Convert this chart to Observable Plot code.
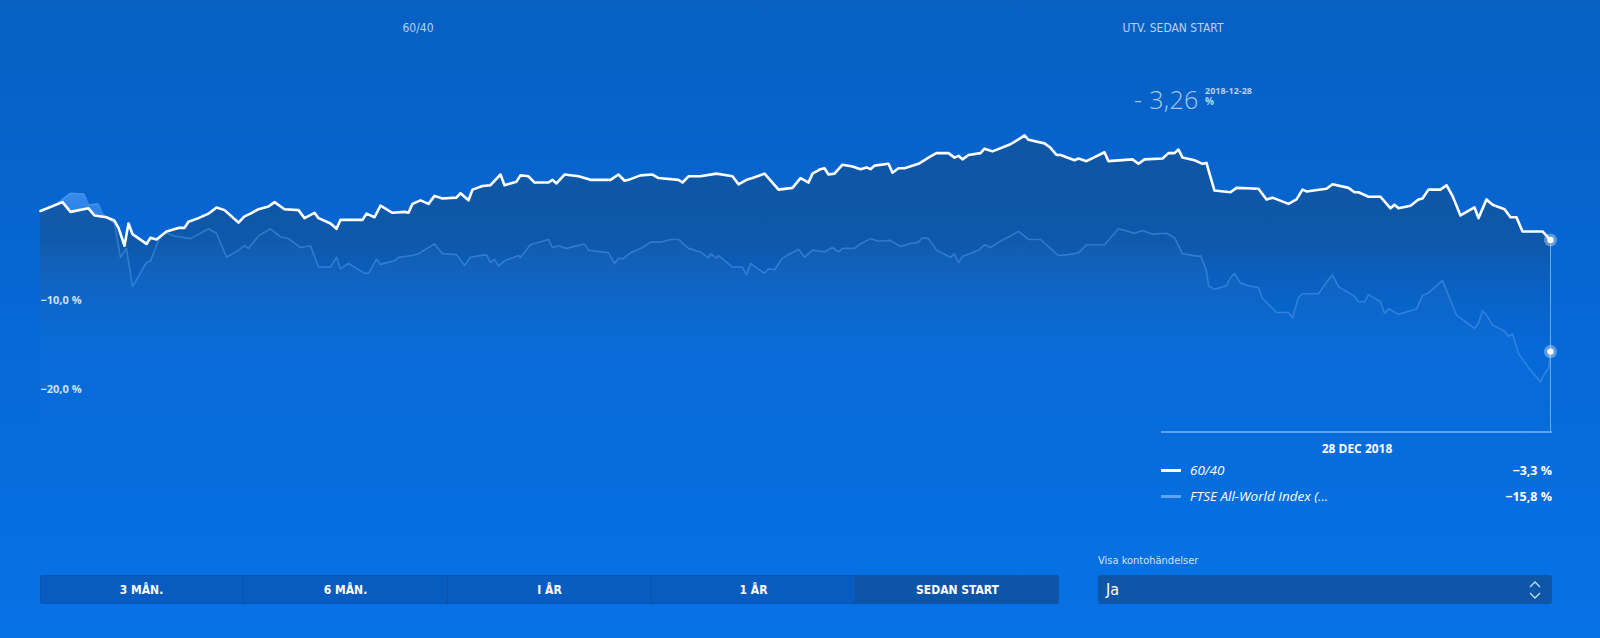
<!DOCTYPE html>
<html>
<head>
<meta charset="utf-8">
<script src="https://cdn.jsdelivr.net/npm/d3@7"></script>
<script src="https://cdn.jsdelivr.net/npm/@observablehq/plot@0.6"></script>
<style>
  html, body { margin: 0; padding: 0; }
  body { width: 1600px; height: 638px; overflow: hidden; }
  #root { position: relative; width: 1600px; height: 638px; overflow: hidden;
    background: linear-gradient(180deg, #0760c2 0%, #0666d2 40%, #0772e6 100%);
    font-family: "Open Sans", "Noto Sans", sans-serif; }
  .abs { position: absolute; white-space: nowrap; }
  .narrow { font-family: "Liberation Sans Narrow", "DejaVu Sans Condensed", "Roboto", sans-serif; }
  .hdr { font-size: 12px; color: #b8d2f2; transform: translateX(-50%); top: 21px; }
  #chart { position: absolute; left: 0; top: 0; }
  .btns { left: 40px; top: 575px; width: 1019px; height: 29px; display: flex; border-radius: 3px; overflow: hidden; background: #085cbf; box-shadow: 0 0 0 1px #0854b0 inset; }
  .btn { flex: 1; display: flex; align-items: center; justify-content: center; color: #fff; font-weight: bold; font-size: 12px; border-right: 1px solid #0852ad; }
  .btn:last-child { border-right: none; }
  .btn.active { background: #0d55a6; }
  .row { color: #fff; }
</style>
</head>
<body>
<div id="root">
  <div class="abs hdr narrow" style="left:418px">60/40</div>
  <div class="abs hdr narrow" style="left:1173px">UTV. SEDAN START</div>
  <div class="abs" style="left:1134px;top:82px;font-size:25px;font-weight:300;color:#a9c9f1;letter-spacing:0.3px">-&nbsp;3,26</div>
  <div class="abs" style="left:1205px;top:84px;font-size:9px;font-weight:bold;color:#b5d1f3">2018-12-28</div>
  <div class="abs" style="left:1205px;top:94px;font-size:10px;font-weight:bold;color:#b5d1f3">%</div>
  <div id="chart"></div>
  <div class="abs" style="left:1161px;top:431px;width:391px;height:2px;background:#5ea3f2"></div>
  <div class="abs" id="tipDate" style="left:1357px;top:440px;transform:translateX(-50%);font-size:12px;font-weight:bold;color:#fff"></div>
  <div id="legend"></div>
  <div class="abs narrow" id="kontoLabel" style="left:1098px;top:554px;font-size:11px;color:#d2e4f8"></div>
  <div class="abs btns narrow" id="btns"></div>
  <div class="abs" style="left:1098px;top:575px;width:454px;height:29px;background:#0e56a8;border-radius:3px">
    <div class="abs narrow" id="kontoValue" style="left:8px;top:5px;font-size:16px;color:#fff"></div>
    <svg class="abs" style="left:431px;top:6px" width="12" height="18" viewBox="0 0 12 18">
      <polyline points="1,6 6,1 11,6" fill="none" stroke="#c9ddf5" stroke-width="1.3"/>
      <polyline points="1,12 6,17 11,12" fill="none" stroke="#c9ddf5" stroke-width="1.3"/>
    </svg>
  </div>
</div>
<script>
// ---------------- DATA ----------------
const startDate = "2016-12-03";
const endDateLabel = "28 DEC 2018";
const seriesNames = ["60/40", "FTSE All-World Index (..."];
const endValueLabels = ["\u22123,3 %", "\u221215,8 %"];
const yTicks = [-10, -20];
const periodLabels = ["3 MÅN.", "6 MÅN.", "I ÅR", "1 ÅR", "SEDAN START"];
const activePeriod = "SEDAN START";
const kontoLabel = "Visa kontohändelser";
const kontoValue = "Ja";

// days since start, 60/40 portfolio development (%)
const sixtyDays = [0,11,15,24,27,33,37,39,42,44,46,53,55,58,63,69,72,74,79,84,88,92,99,102,105,109,114,117,122,129,132,137,139,145,148,150,161,163,167,170,176,182,184,186,190,194,197,201,208,210,214,216,221,225,230,232,238,240,244,247,254,256,258,262,269,275,285,289,292,294,300,306,309,319,321,324,330,338,346,349,353,356,362,369,376,380,384,386,390,392,394,397,401,406,410,413,415,417,424,426,429,432,439,444,448,454,457,459,461,464,470,472,476,485,488,492,494,502,505,508,510,517,519,523,532,534,546,549,552,561,564,567,569,571,577,581,583,584,587,595,598,609,613,616,624,628,631,633,643,646,654,657,659,664,670,675,677,679,685,689,691,694,700,703,706,710,717,719,723,726,732,735,738,741,751,755];
const sixtyValues = [0.0,1.0,-0.1,0.3,-0.5,-0.7,-1.1,-1.9,-3.9,-1.4,-2.6,-3.7,-3.0,-3.2,-2.3,-1.9,-1.9,-1.2,-0.8,-0.3,0.4,0.1,-1.3,-0.6,-0.3,0.2,0.5,1.0,0.2,0.1,-0.8,-0.2,-0.8,-1.4,-2.0,-1.0,-1.0,-0.3,-0.7,0.6,-0.2,-0.1,-0.2,0.8,1.2,0.8,1.7,1.4,1.5,2.0,1.2,2.4,2.8,2.9,4.1,2.9,3.3,4.0,3.9,3.2,3.2,3.5,3.1,4.1,3.9,3.5,3.5,4.1,3.4,3.5,4.0,4.1,3.7,3.5,3.2,3.9,3.9,4.2,3.9,3.0,3.5,3.7,4.2,2.4,2.6,3.7,3.2,4.2,4.7,4.8,4.1,4.2,5.2,5.0,4.7,4.9,4.7,5.1,5.3,4.3,4.8,4.8,5.3,6.0,6.5,6.5,6.0,6.2,5.8,6.3,6.5,7.0,6.7,7.5,7.9,8.5,8.0,7.6,7.1,6.3,6.3,5.7,5.9,5.6,6.6,5.6,5.8,5.3,5.8,5.9,6.5,6.5,6.9,6.0,5.7,5.3,5.4,4.6,2.3,2.1,2.6,2.5,1.3,1.5,0.8,1.3,2.4,2.2,2.5,3.0,2.6,2.1,2.1,1.6,1.6,0.3,0.7,0.3,0.6,1.3,1.4,2.4,2.4,2.9,1.7,-0.5,0.4,-0.8,1.3,0.7,0.2,-0.7,-0.7,-2.3,-2.3,-3.26];

// days since start, FTSE All-World Index development (%)
const ftseDays = [0,8,15,22,24,29,31,37,40,43,46,53,55,59,62,67,75,84,88,93,99,102,104,109,115,120,124,130,135,139,145,148,150,154,162,164,168,170,177,179,186,189,197,201,208,212,215,223,225,227,229,232,239,240,245,254,256,259,263,272,274,284,287,289,291,295,301,305,310,315,319,324,330,334,335,338,339,346,351,353,355,362,364,367,371,379,382,386,392,396,399,401,407,410,415,419,425,430,434,439,441,444,448,455,457,459,461,469,472,475,479,485,489,494,500,509,514,519,523,532,539,547,551,556,563,567,571,579,580,583,584,587,593,595,597,600,604,609,611,618,624,626,629,631,639,644,646,649,657,659,662,664,670,672,674,679,688,691,694,701,708,710,717,719,721,723,726,732,734,736,739,744,750,752,754,755];
const ftseValues = [0.0,0.8,2.0,1.9,0.7,0.8,-0.3,-1.4,-5.2,-4.2,-8.5,-5.8,-5.6,-3.3,-2.4,-2.8,-3.1,-2.0,-2.5,-5.2,-4.4,-3.9,-4.2,-2.8,-2.0,-2.9,-3.1,-4.1,-3.9,-6.3,-6.3,-5.2,-6.5,-5.9,-7.0,-7.0,-5.4,-6.0,-5.6,-5.2,-5.0,-4.8,-3.7,-4.8,-4.9,-6.1,-5.2,-4.9,-5.8,-5.4,-6.2,-5.6,-5.0,-5.2,-3.8,-3.2,-4.1,-3.9,-4.2,-3.7,-4.4,-4.7,-5.9,-5.3,-5.4,-4.7,-4.1,-3.5,-3.5,-3.2,-3.2,-4.2,-4.6,-5.3,-4.8,-5.3,-5.0,-6.3,-6.3,-7.2,-5.9,-7.0,-6.5,-6.6,-5.3,-4.3,-5.2,-4.4,-4.6,-4.1,-4.6,-4.2,-4.2,-3.7,-3.1,-3.4,-3.3,-4.0,-3.7,-3.5,-3.0,-3.1,-4.4,-5.2,-4.8,-5.8,-5.1,-4.4,-3.8,-4.1,-3.5,-2.8,-2.3,-3.2,-3.2,-5.0,-4.9,-4.7,-3.8,-3.8,-2.0,-2.5,-2.2,-2.6,-2.5,-3.0,-4.8,-5.1,-5.0,-6.7,-8.4,-8.8,-8.4,-7.5,-7.0,-8.1,-8.4,-8.6,-9.8,-11.4,-11.4,-12.0,-9.7,-9.3,-9.3,-7.7,-7.2,-8.5,-9.6,-10.2,-10.2,-9.4,-10.2,-11.5,-11.0,-11.6,-11.0,-9.5,-9.2,-7.8,-11.7,-12.0,-13.2,-12.6,-11.2,-11.7,-12.8,-13.5,-14.1,-13.8,-16.0,-17.6,-19.2,-18.3,-17.7,-15.8];

// ---------------- BUILD ----------------
const start = new Date(startDate);
const toDate = d => d3.utcDay.offset(start, d);
const sixty = sixtyDays.map((d, i) => ({date: toDate(d), value: sixtyValues[i]}));
const ftse = ftseDays.map((d, i) => ({date: toDate(d), value: ftseValues[i]}));
const lastSixty = sixty[sixty.length - 1];
const lastFtse = ftse[ftse.length - 1];
const yMin = -25, yMax = 10;

const svLocale = d3.formatLocale({decimal: ",", thousands: "\u00a0", grouping: [3], currency: ["", " kr"], minus: "\u2212"});
const fmt = svLocale.format(".1f");

const chart = Plot.plot({
  width: 1600,
  height: 460,
  marginLeft: 40,
  marginRight: 50,
  marginTop: 121.5,
  marginBottom: 27,
  style: {background: "transparent", overflow: "visible"},
  x: {type: "utc", domain: [start, lastSixty.date], axis: null},
  y: {domain: [yMin, yMax], axis: null},
  marks: [
    Plot.areaY(ftse, {x: "date", y1: yMin, y2: "value", fill: "url(#ftseGrad)", curve: "linear"}),
    Plot.areaY(sixty, {x: "date", y1: yMin, y2: "value", fill: "url(#sixtyGrad)", curve: "linear"}),
    Plot.lineY(ftse, {x: "date", y: "value", stroke: "#5aa2f2", strokeOpacity: 0.45, strokeWidth: 1.6}),
    Plot.lineY(sixty, {x: "date", y: "value", stroke: "#ffffff", strokeWidth: 2.6, strokeLinejoin: "round"}),
    Plot.ruleX([lastSixty], {x: "date", y1: "value", y2: yMin, stroke: "#6aaaf3", strokeWidth: 1}),
    Plot.text(yTicks, {y: d => d, frameAnchor: "left", textAnchor: "start", text: d => fmt(d) + " %",
      fill: "#cfe1f7", fontWeight: "bold", fontSize: 11, fontFamily: "Open Sans"}),
    Plot.dot([lastSixty, lastFtse], {x: "date", y: "value", r: 6.5, fill: "#ffffff", fillOpacity: 0.35}),
    Plot.dot([lastSixty, lastFtse], {x: "date", y: "value", r: 3.2, fill: "#ffffff"})
  ]
});

// gradients
const ns = "http://www.w3.org/2000/svg";
const defs = document.createElementNS(ns, "defs");
defs.innerHTML = `
  <linearGradient id="sixtyGrad" gradientUnits="userSpaceOnUse" x1="0" y1="120" x2="0" y2="433">
    <stop offset="0" stop-color="#0f55a2" stop-opacity="0.97"/>
    <stop offset="0.38" stop-color="#0f57a6" stop-opacity="0.92"/>
    <stop offset="0.72" stop-color="#0c5fbd" stop-opacity="0.0"/>
    <stop offset="1" stop-color="#0c5fbd" stop-opacity="0"/>
  </linearGradient>
  <linearGradient id="ftseGrad" gradientUnits="userSpaceOnUse" x1="0" y1="185" x2="0" y2="433">
    <stop offset="0" stop-color="#3d90f2" stop-opacity="0.95"/>
    <stop offset="0.15" stop-color="#3d90f2" stop-opacity="0.6"/>
    <stop offset="0.5" stop-color="#2f80e0" stop-opacity="0.15"/>
    <stop offset="1" stop-color="#2f80e0" stop-opacity="0"/>
  </linearGradient>`;
chart.insertBefore(defs, chart.firstChild);
document.getElementById("chart").appendChild(chart);

// tooltip / legend
document.getElementById("tipDate").textContent = endDateLabel;
const legend = document.getElementById("legend");
const swatchColors = ["#ffffff", "#5ea3f2"];
const rowTops = [461, 487];
seriesNames.forEach((name, i) => {
  const sw = document.createElement("div");
  sw.className = "abs";
  sw.style.cssText = `left:1161px;top:${rowTops[i] + 8}px;width:20px;height:3px;background:${swatchColors[i]}`;
  legend.appendChild(sw);
  const lb = document.createElement("div");
  lb.className = "abs row";
  lb.style.cssText = `left:1190px;top:${rowTops[i]}px;font-style:italic;font-size:13.5px`;
  lb.textContent = name;
  legend.appendChild(lb);
  const vl = document.createElement("div");
  vl.className = "abs row";
  vl.style.cssText = `right:${1600 - 1552}px;top:${rowTops[i] + 1}px;font-weight:bold;font-size:12.5px`;
  vl.textContent = endValueLabels[i];
  legend.appendChild(vl);
});

// buttons
const btns = document.getElementById("btns");
periodLabels.forEach(p => {
  const b = document.createElement("div");
  b.className = "btn" + (p === activePeriod ? " active" : "");
  b.textContent = p;
  btns.appendChild(b);
});
document.getElementById("kontoLabel").textContent = kontoLabel;
document.getElementById("kontoValue").textContent = kontoValue;
</script>
</body>
</html>
